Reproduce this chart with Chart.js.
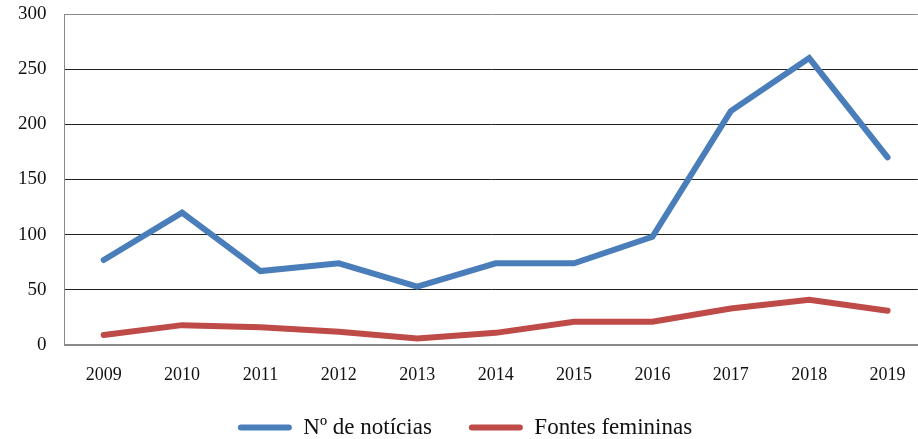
<!DOCTYPE html>
<html>
<head>
<meta charset="utf-8">
<script src="https://cdn.jsdelivr.net/npm/chart.js@4/dist/chart.umd.min.js"></script>
<style>
  html, body { margin: 0; padding: 0; background: #fff; }
  #wrap { width: 918px; height: 439px; position: relative; }
</style>
</head>
<body>
<div id="wrap"><canvas id="chart"></canvas></div>
<script>
  const years = ['2009', '2010', '2011', '2012', '2013', '2014', '2015', '2016', '2017', '2018', '2019'];
  const noticias = [77, 120, 67, 74, 53, 74, 74, 98, 212, 260, 170];
  const fontesFemininas = [9, 18, 16, 12, 6, 11, 21, 21, 33, 41, 31];
  const yTicks = [0, 50, 100, 150, 200, 250, 300];

  const BLUE = '#4a7ebb', RED = '#be4b48', GRID = '#222', AXIS = '#8a8a8a';
  const FONT = "'Liberation Serif', 'DejaVu Serif', serif";

  // legend: wide gap between items but a short box under the x labels;
  // category axis runs a little past the right edge like the original
  const layoutTweak = {
    id: 'layoutTweak',
    beforeInit(chart) {
      const fit = chart.legend.fit;
      chart.legend.fit = function () { fit.call(this); this.height = 56; };
    },
    afterLayout(chart) {
      const lg = chart.legend;
      lg.top -= 4; lg.bottom -= 4;
      lg.left += 6; lg.right += 6;
      const x = chart.scales.x;
      x.right += 9;
      x.width += 9;
      x.configure();
    }
  };

  new Chart(document.getElementById('chart'), {
    type: 'line',
    data: {
      labels: years,
      datasets: [
        { label: 'Nº de notícias', data: noticias, borderColor: BLUE, backgroundColor: BLUE,
          borderWidth: 6, pointRadius: 0, borderCapStyle: 'round', tension: 0 },
        { label: 'Fontes femininas', data: fontesFemininas, borderColor: RED, backgroundColor: RED,
          borderWidth: 6, pointRadius: 0, borderCapStyle: 'round', tension: 0 }
      ]
    },
    options: {
      responsive: true, maintainAspectRatio: false,
      animation: false,
      layout: { padding: { top: 0, right: 0, bottom: 0, left: 0 } },
      scales: {
        x: {
          offset: true,
          afterFit: axis => { axis.height = 38; },
          grid: { display: false, drawTicks: false },
          border: { display: true, color: AXIS, width: 2 },
          ticks: { color: '#111', padding: 21, font: { family: FONT, size: 18, lineHeight: 1 } }
        },
        y: {
          min: 0, max: 300,
          afterBuildTicks: axis => { axis.ticks = yTicks.map(v => ({ value: v })); },
          afterFit: axis => { axis.paddingTop = 14; axis.paddingBottom = 10; },
          grid: { color: ctx => (ctx.tick && ctx.tick.value === 300) ? AXIS : GRID, lineWidth: 1, drawTicks: false },
          border: { display: true, color: AXIS, width: 1 },
          ticks: { color: '#111', padding: 18, font: { family: FONT, size: 19, lineHeight: 1 } }
        }
      },
      plugins: {
        legend: {
          position: 'bottom',
          labels: {
            color: '#111', boxWidth: 54, boxHeight: 6, useBorderRadius: true, borderRadius: 3,
            padding: 37, font: { family: FONT, size: 23 },
            generateLabels: chart => Chart.defaults.plugins.legend.labels.generateLabels(chart)
              .map(l => Object.assign(l, { lineWidth: 0 }))
          }
        },
        tooltip: { enabled: false }
      }
    },
    plugins: [layoutTweak]
  });
</script>
</body>
</html>
